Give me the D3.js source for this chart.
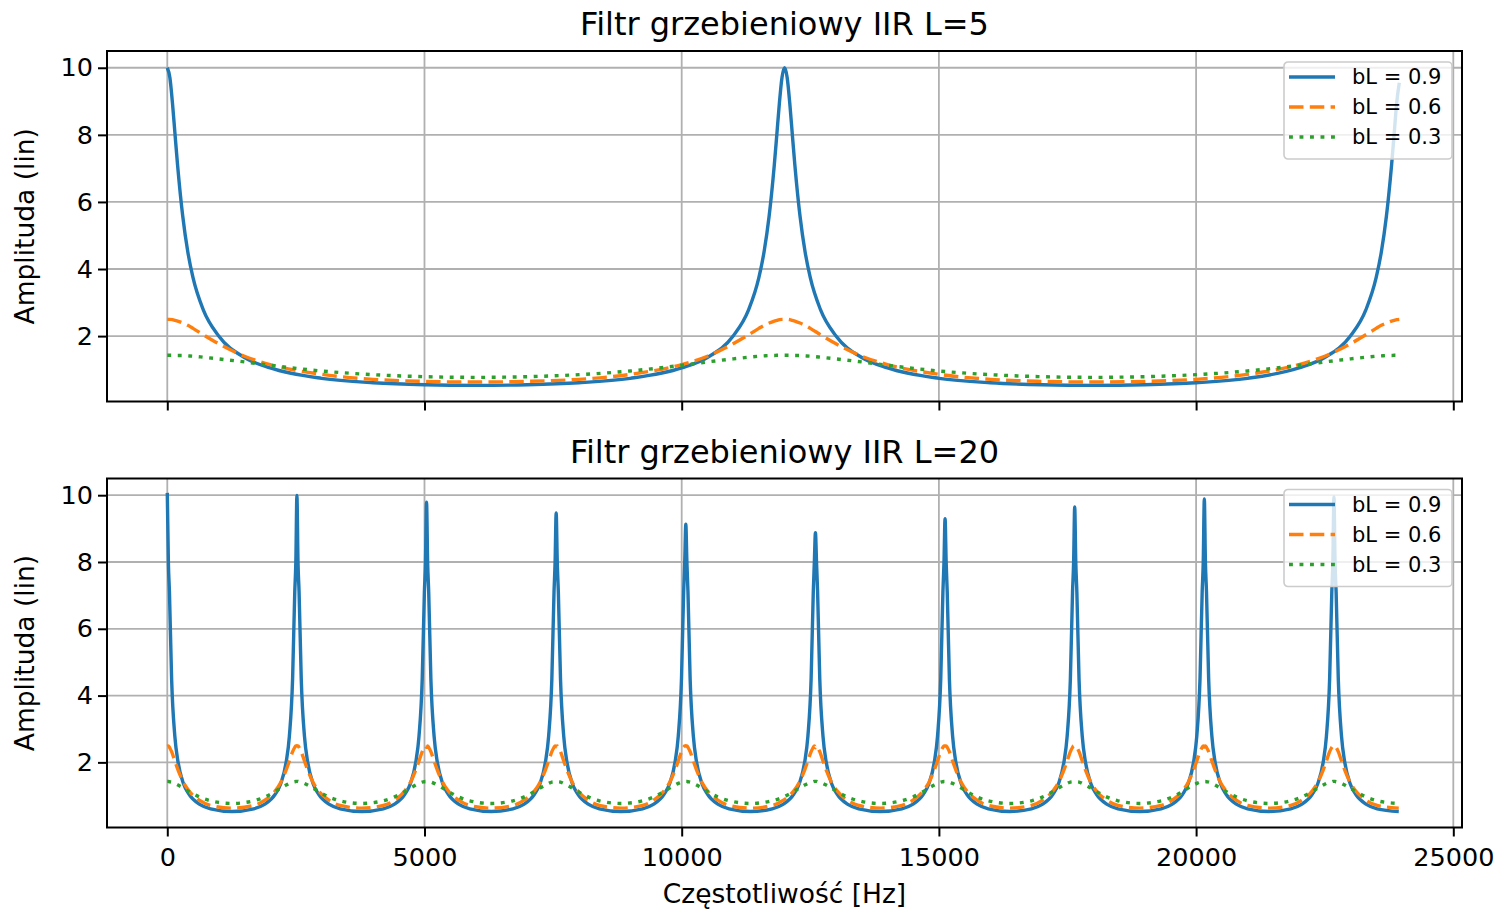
<!DOCTYPE html>
<html>
<head>
<meta charset="utf-8">
<script src="https://cdn.jsdelivr.net/npm/d3@7"></script>
<style>
  body { margin: 0; background: #fff; }
  svg { display: block; font-family: "DejaVu Sans", sans-serif; }
</style>
</head>
<body>
<svg id="chart" width="1501" height="911"></svg>
<script>
// --- L=5 panel, values ---
const freqL5 = [0, 50, 100, 150, 200, 300, 400, 500, 700, 1000, 1500, 2000, 3000, 4000, 5000, 6000,
  7000, 8000, 9000, 10000, 10500, 11000, 11300, 11500, 11600, 11700, 11800, 11850, 11900, 11950, 12000,
  12050, 12100, 12150, 12200, 12300, 12400, 12500, 12700, 13000, 13500, 14000, 15000, 16000, 17000, 18000,
  19000, 20000, 21000, 22000, 22500, 23000, 23300, 23500, 23600, 23700, 23800, 23850, 23900, 23950];
const ampL5b09 = [10.0, 9.71, 8.96, 8.02, 7.10, 5.58, 4.50, 3.74, 2.78, 2.00, 1.36, 1.05, 0.74, 0.61, 0.55, 0.53,
  0.55, 0.61, 0.74, 1.05, 1.36, 2.00, 2.78, 3.74, 4.50, 5.58, 7.10, 8.02, 8.96, 9.71, 10.0,
  9.71, 8.96, 8.02, 7.10, 5.58, 4.50, 3.74, 2.78, 2.00, 1.36, 1.05, 0.74, 0.61, 0.55, 0.53,
  0.55, 0.61, 0.74, 1.05, 1.36, 2.00, 2.78, 3.74, 4.50, 5.58, 7.10, 8.02, 8.96, 9.55];
const ampL5b06 = [2.50, 2.50, 2.49, 2.47, 2.45, 2.39, 2.32, 2.23, 2.04, 1.77, 1.40, 1.15, 0.86, 0.71, 0.65, 0.63,
  0.65, 0.71, 0.86, 1.15, 1.40, 1.77, 2.04, 2.23, 2.32, 2.39, 2.45, 2.47, 2.49, 2.50, 2.50,
  2.50, 2.49, 2.47, 2.45, 2.39, 2.32, 2.23, 2.04, 1.77, 1.40, 1.15, 0.86, 0.71, 0.65, 0.63,
  0.65, 0.71, 0.86, 1.15, 1.40, 1.77, 2.04, 2.23, 2.32, 2.39, 2.45, 2.47, 2.49, 2.50];
const ampL5b03 = [1.43, 1.43, 1.43, 1.43, 1.42, 1.42, 1.41, 1.40, 1.37, 1.32, 1.23, 1.13, 0.96, 0.85, 0.79, 0.77,
  0.79, 0.85, 0.96, 1.13, 1.23, 1.32, 1.37, 1.40, 1.41, 1.42, 1.42, 1.43, 1.43, 1.43, 1.43,
  1.43, 1.43, 1.43, 1.42, 1.42, 1.41, 1.40, 1.37, 1.32, 1.23, 1.13, 0.96, 0.85, 0.79, 0.77,
  0.79, 0.85, 0.96, 1.13, 1.23, 1.32, 1.37, 1.40, 1.41, 1.42, 1.42, 1.43, 1.43, 1.43];

// --- L=20 panel ---
const freqL20 = [0, 21, 42, 84, 147, 210, 315, 420, 630, 840, 1260, 1680, 1890, 2100, 2205, 2310, 2373, 2436, 2478, 2499,
  2520, 2541, 2562, 2604, 2667, 2730, 2835, 2940, 3150, 3360, 3780, 4200, 4410, 4620, 4725, 4830, 4893, 4956, 4998, 5019,
  5040, 5061, 5082, 5124, 5187, 5250, 5355, 5460, 5670, 5880, 6300, 6720, 6930, 7140, 7245, 7350, 7413, 7476, 7518, 7539,
  7560, 7581, 7602, 7644, 7707, 7770, 7875, 7980, 8190, 8400, 8820, 9240, 9450, 9660, 9765, 9870, 9933, 9996, 10038, 10059,
  10080, 10101, 10122, 10164, 10227, 10290, 10395, 10500, 10710, 10920, 11340, 11760, 11970, 12180, 12285, 12390, 12453, 12516, 12558, 12579,
  12600, 12621, 12642, 12684, 12747, 12810, 12915, 13020, 13230, 13440, 13860, 14280, 14490, 14700, 14805, 14910, 14973, 15036, 15078, 15099,
  15120, 15141, 15162, 15204, 15267, 15330, 15435, 15540, 15750, 15960, 16380, 16800, 17010, 17220, 17325, 17430, 17493, 17556, 17598, 17619,
  17640, 17661, 17682, 17724, 17787, 17850, 17955, 18060, 18270, 18480, 18900, 19320, 19530, 19740, 19845, 19950, 20013, 20076, 20118, 20139,
  20160, 20181, 20202, 20244, 20307, 20370, 20475, 20580, 20790, 21000, 21420, 21840, 22050, 22260, 22365, 22470, 22533, 22596, 22638, 22659,
  22680, 22701, 22722, 22764, 22827, 22890, 22995, 23100, 23310, 23520, 23940];
const ampL20b09 = [10.07, 8.0, 7.10, 4.50, 2.78, 2.00, 1.36, 1.05, 0.74, 0.61, 0.53, 0.61, 0.74, 1.05, 1.36, 2.00, 2.78, 4.50, 7.10, 8.0,
  9.99, 8.0, 7.10, 4.50, 2.78, 2.00, 1.36, 1.05, 0.74, 0.61, 0.53, 0.61, 0.74, 1.05, 1.36, 2.00, 2.78, 4.50, 7.10, 8.0,
  9.79, 8.0, 7.10, 4.50, 2.78, 2.00, 1.36, 1.05, 0.74, 0.61, 0.53, 0.61, 0.74, 1.05, 1.36, 2.00, 2.78, 4.50, 7.10, 8.0,
  9.47, 8.0, 7.10, 4.50, 2.78, 2.00, 1.36, 1.05, 0.74, 0.61, 0.53, 0.61, 0.74, 1.05, 1.36, 2.00, 2.78, 4.50, 7.10, 8.0,
  9.13, 8.0, 7.10, 4.50, 2.78, 2.00, 1.36, 1.05, 0.74, 0.61, 0.53, 0.61, 0.74, 1.05, 1.36, 2.00, 2.78, 4.50, 7.10, 8.0,
  8.88, 8.0, 7.10, 4.50, 2.78, 2.00, 1.36, 1.05, 0.74, 0.61, 0.53, 0.61, 0.74, 1.05, 1.36, 2.00, 2.78, 4.50, 7.10, 8.0,
  9.30, 8.0, 7.10, 4.50, 2.78, 2.00, 1.36, 1.05, 0.74, 0.61, 0.53, 0.61, 0.74, 1.05, 1.36, 2.00, 2.78, 4.50, 7.10, 8.0,
  9.65, 8.0, 7.10, 4.50, 2.78, 2.00, 1.36, 1.05, 0.74, 0.61, 0.53, 0.61, 0.74, 1.05, 1.36, 2.00, 2.78, 4.50, 7.10, 8.0,
  9.89, 8.0, 7.10, 4.50, 2.78, 2.00, 1.36, 1.05, 0.74, 0.61, 0.53, 0.61, 0.74, 1.05, 1.36, 2.00, 2.78, 4.50, 7.10, 8.0,
  9.95, 8.0, 7.10, 4.50, 2.78, 2.00, 1.36, 1.05, 0.74, 0.61, 0.53];
const ampL20b06 = [2.48, 2.49, 2.45, 2.32, 2.04, 1.77, 1.40, 1.15, 0.86, 0.71, 0.63, 0.71, 0.86, 1.15, 1.40, 1.77, 2.04, 2.32, 2.45, 2.49,
  2.50, 2.49, 2.45, 2.32, 2.04, 1.77, 1.40, 1.15, 0.86, 0.71, 0.63, 0.71, 0.86, 1.15, 1.40, 1.77, 2.04, 2.32, 2.45, 2.49,
  2.45, 2.49, 2.45, 2.32, 2.04, 1.77, 1.40, 1.15, 0.86, 0.71, 0.63, 0.71, 0.86, 1.15, 1.40, 1.77, 2.04, 2.32, 2.45, 2.49,
  2.47, 2.49, 2.45, 2.32, 2.04, 1.77, 1.40, 1.15, 0.86, 0.71, 0.63, 0.71, 0.86, 1.15, 1.40, 1.77, 2.04, 2.32, 2.45, 2.49,
  2.50, 2.49, 2.45, 2.32, 2.04, 1.77, 1.40, 1.15, 0.86, 0.71, 0.63, 0.71, 0.86, 1.15, 1.40, 1.77, 2.04, 2.32, 2.45, 2.49,
  2.44, 2.49, 2.45, 2.32, 2.04, 1.77, 1.40, 1.15, 0.86, 0.71, 0.63, 0.71, 0.86, 1.15, 1.40, 1.77, 2.04, 2.32, 2.45, 2.49,
  2.49, 2.49, 2.45, 2.32, 2.04, 1.77, 1.40, 1.15, 0.86, 0.71, 0.63, 0.71, 0.86, 1.15, 1.40, 1.77, 2.04, 2.32, 2.45, 2.49,
  2.50, 2.49, 2.45, 2.32, 2.04, 1.77, 1.40, 1.15, 0.86, 0.71, 0.63, 0.71, 0.86, 1.15, 1.40, 1.77, 2.04, 2.32, 2.45, 2.49,
  2.46, 2.49, 2.45, 2.32, 2.04, 1.77, 1.40, 1.15, 0.86, 0.71, 0.63, 0.71, 0.86, 1.15, 1.40, 1.77, 2.04, 2.32, 2.45, 2.49,
  2.50, 2.49, 2.45, 2.32, 2.04, 1.77, 1.40, 1.15, 0.86, 0.71, 0.63];
const ampL20b03 = [1.43, 1.43, 1.42, 1.41, 1.37, 1.32, 1.23, 1.13, 0.96, 0.85, 0.77, 0.85, 0.96, 1.13, 1.23, 1.32, 1.37, 1.41, 1.42, 1.43,
  1.43, 1.43, 1.42, 1.41, 1.37, 1.32, 1.23, 1.13, 0.96, 0.85, 0.77, 0.85, 0.96, 1.13, 1.23, 1.32, 1.37, 1.41, 1.42, 1.43,
  1.43, 1.43, 1.42, 1.41, 1.37, 1.32, 1.23, 1.13, 0.96, 0.85, 0.77, 0.85, 0.96, 1.13, 1.23, 1.32, 1.37, 1.41, 1.42, 1.43,
  1.43, 1.43, 1.42, 1.41, 1.37, 1.32, 1.23, 1.13, 0.96, 0.85, 0.77, 0.85, 0.96, 1.13, 1.23, 1.32, 1.37, 1.41, 1.42, 1.43,
  1.43, 1.43, 1.42, 1.41, 1.37, 1.32, 1.23, 1.13, 0.96, 0.85, 0.77, 0.85, 0.96, 1.13, 1.23, 1.32, 1.37, 1.41, 1.42, 1.43,
  1.43, 1.43, 1.42, 1.41, 1.37, 1.32, 1.23, 1.13, 0.96, 0.85, 0.77, 0.85, 0.96, 1.13, 1.23, 1.32, 1.37, 1.41, 1.42, 1.43,
  1.43, 1.43, 1.42, 1.41, 1.37, 1.32, 1.23, 1.13, 0.96, 0.85, 0.77, 0.85, 0.96, 1.13, 1.23, 1.32, 1.37, 1.41, 1.42, 1.43,
  1.43, 1.43, 1.42, 1.41, 1.37, 1.32, 1.23, 1.13, 0.96, 0.85, 0.77, 0.85, 0.96, 1.13, 1.23, 1.32, 1.37, 1.41, 1.42, 1.43,
  1.43, 1.43, 1.42, 1.41, 1.37, 1.32, 1.23, 1.13, 0.96, 0.85, 0.77, 0.85, 0.96, 1.13, 1.23, 1.32, 1.37, 1.41, 1.42, 1.43,
  1.43, 1.43, 1.42, 1.41, 1.37, 1.32, 1.23, 1.13, 0.96, 0.85, 0.77];

const seriesLabels = ["bL = 0.9", "bL = 0.6", "bL = 0.3"];
const panelTitles = ["Filtr grzebieniowy IIR L=5", "Filtr grzebieniowy IIR L=20"];
const xTickValues = [0, 5000, 10000, 15000, 20000, 25000];
const yTickValues = [2, 4, 6, 8, 10];
const xAxisLabel = "Częstotliwość [Hz]";
const yAxisLabel = "Amplituda (lin)";

const svg = d3.select("#chart");
const colors = ["#1f77b4", "#ff7f0e", "#2ca02c"];
const dashes = [null, "14.5,6.3", "3.9,6.6"];
const left = 107, right = 1462;

const x = d3.scaleLinear().domain([-1172, 25169]).range([left, right]);

const panels = [
  { top: 51, bottom: 401.5, title: panelTitles[0], freq: freqL5,
    amps: [ampL5b09, ampL5b06, ampL5b03], showXLabels: false },
  { top: 478.5, bottom: 827.5, title: panelTitles[1], freq: freqL20,
    amps: [ampL20b09, ampL20b06, ampL20b03], showXLabels: true }
];

panels.forEach((p) => {
  const y = d3.scaleLinear().domain([0.05, 10.5]).range([p.bottom, p.top]);
  const g = svg.append("g");

  // grid
  g.append("g")
    .selectAll("line.vgrid")
    .data(xTickValues)
    .join("line")
    .attr("x1", d => x(d)).attr("x2", d => x(d))
    .attr("y1", p.top).attr("y2", p.bottom)
    .attr("stroke", "#b0b0b0")
    .attr("stroke-width", 1.8);
  g.append("g")
    .selectAll("line.hgrid")
    .data(yTickValues)
    .join("line")
    .attr("x1", left).attr("x2", right)
    .attr("y1", d => y(d)).attr("y2", d => y(d))
    .attr("stroke", "#b0b0b0")
    .attr("stroke-width", 1.8);

  // axes
  const xAxisG = g.append("g")
    .attr("transform", `translate(0,${p.bottom})`)
    .call(d3.axisBottom(x)
      .tickValues(xTickValues)
      .tickSize(9)
      .tickPadding(11)
      .tickFormat(p.showXLabels ? d3.format("d") : ""));
  const yAxisG = g.append("g")
    .attr("transform", `translate(${left},0)`)
    .call(d3.axisLeft(y)
      .tickValues(yTickValues)
      .tickSize(9)
      .tickPadding(5)
      .tickFormat(d3.format("d")));
  [xAxisG, yAxisG].forEach(a => {
    a.select(".domain").remove();
    a.selectAll(".tick line").attr("stroke", "#000").attr("stroke-width", 2);
    a.selectAll("text")
      .attr("fill", "#000")
      .style("font-size", "25.5px")
      .style("font-family", "'DejaVu Sans', sans-serif");
  });

  // lines
  p.amps.forEach((vals, i) => {
    const lineGen = d3.line()
      .x((d, j) => x(p.freq[j]))
      .y(d => y(d))
      .curve(d3.curveMonotoneX);
    g.append("path")
      .datum(vals)
      .attr("fill", "none")
      .attr("stroke", colors[i])
      .attr("stroke-width", 3.4)
      .attr("stroke-dasharray", dashes[i])
      .attr("stroke-linejoin", "round")
      .attr("d", lineGen);
  });

  // frame
  g.append("rect")
    .attr("x", left).attr("y", p.top)
    .attr("width", right - left).attr("height", p.bottom - p.top)
    .attr("fill", "none")
    .attr("stroke", "#000")
    .attr("stroke-width", 2);

  // title
  g.append("text")
    .attr("x", (left + right) / 2)
    .attr("y", p.top - 16)
    .attr("text-anchor", "middle")
    .style("font-size", "32px")
    .text(p.title);

  // y label
  g.append("text")
    .attr("transform", `translate(34,${(p.top + p.bottom) / 2}) rotate(-90)`)
    .attr("text-anchor", "middle")
    .style("font-size", "26.5px")
    .text(yAxisLabel);

  // legend
  const legend = g.append("g").attr("transform", `translate(1284,${p.top + 11})`);
  legend.append("rect")
    .attr("width", 168).attr("height", 97)
    .attr("rx", 4)
    .attr("fill", "#fff").attr("fill-opacity", 0.8)
    .attr("stroke", "#cccccc").attr("stroke-width", 1.6);
  seriesLabels.forEach((lab, i) => {
    const ly = 15 + i * 30;
    legend.append("line")
      .attr("x1", 5).attr("x2", 51)
      .attr("y1", ly).attr("y2", ly)
      .attr("stroke", colors[i])
      .attr("stroke-width", 3.4)
      .attr("stroke-dasharray", dashes[i]);
    legend.append("text")
      .attr("x", 68).attr("y", ly)
      .attr("dy", "0.35em")
      .style("font-size", "21px")
      .text(lab);
  });
});

svg.append("text")
  .attr("x", (left + right) / 2)
  .attr("y", 903)
  .attr("text-anchor", "middle")
  .style("font-size", "26.5px")
  .text(xAxisLabel);
</script>
</body>
</html>
